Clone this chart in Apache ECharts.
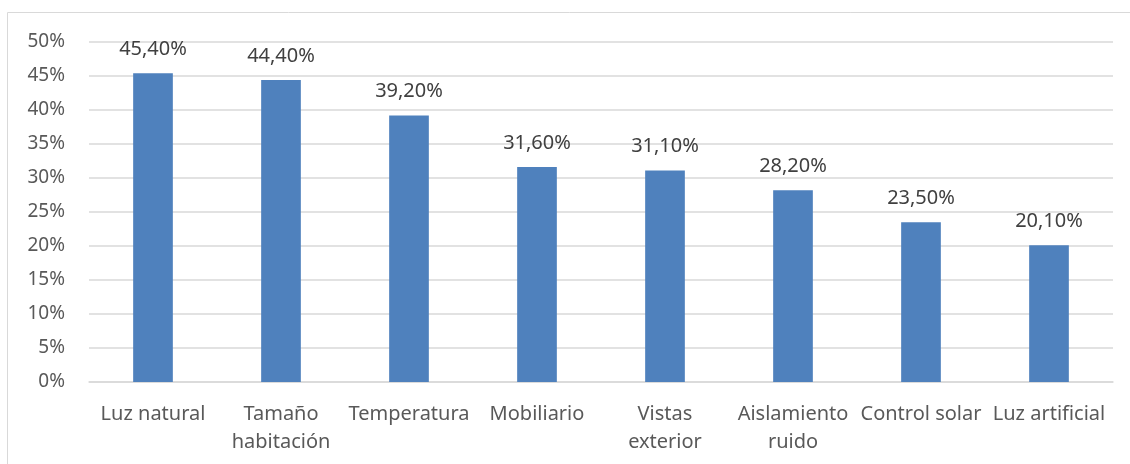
<!DOCTYPE html>
<html><head><meta charset="utf-8">
<script src="https://cdn.jsdelivr.net/npm/echarts@6/dist/echarts.min.js"></script>
<style>html,body{margin:0;padding:0;background:#fff}#c{width:1130px;height:464px}</style>
</head><body><div id="c"></div>
<script>
const categories = ["Luz natural","Tamaño\nhabitación","Temperatura","Mobiliario","Vistas\nexterior","Aislamiento\nruido","Control solar","Luz artificial"];
const values = [45.4, 44.4, 39.2, 31.6, 31.1, 28.2, 23.5, 20.1];
const yMin = 0, yMax = 50, yStep = 5;

const chart = echarts.init(document.getElementById('c'), null, {renderer:'canvas'});
const font = '"Noto Sans", sans-serif';
chart.setOption({
  animation:false,
  graphic:[{type:'rect', shape:{x:7.5,y:12.5,width:1140,height:470}, style:{fill:'none',stroke:'#d9d9d9',lineWidth:1}, silent:true}],
  grid:{left:89,right:17,top:42,bottom:82,containLabel:false},
  xAxis:{type:'category',data:categories,
    axisLine:{show:true,lineStyle:{color:'#d9d9d9',width:1.5}},
    axisTick:{show:false},
    axisLabel:{color:'#595959',fontFamily:font,fontSize:20,lineHeight:28,margin:18,interval:0}},
  yAxis:{type:'value',min:yMin,max:yMax,interval:yStep,
    axisLine:{show:false},axisTick:{show:false},
    splitLine:{lineStyle:{color:'#d9d9d9',width:1.5}},
    axisLabel:{color:'#595959',fontFamily:font,fontSize:19,margin:24,formatter:v=>v+'%'}},
  series:[{type:'bar',data:values,barWidth:'31%',
    itemStyle:{color:'#4f81bd'},
    label:{show:true,position:'top',distance:14,color:'#404040',fontFamily:font,fontSize:20,
      formatter:p=>p.value.toFixed(2).replace('.',',')+'%'}}]
});
</script></body></html>
